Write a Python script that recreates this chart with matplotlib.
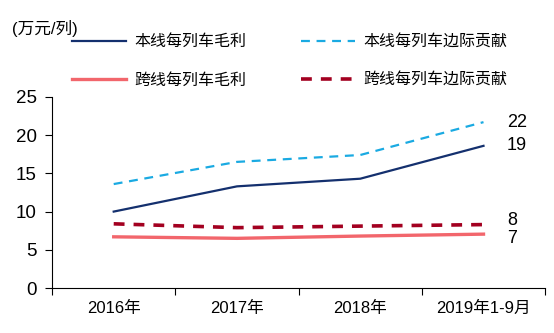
import matplotlib
matplotlib.use('Agg')
import matplotlib.pyplot as plt

plt.rcParams['font.family'] = ['Liberation Sans', 'Noto Sans CJK SC']

years = ['2016年', '2017年', '2018年', '2019年1-9月']
own_gross = [10.0, 13.3, 14.3, 18.6]
own_margin = [13.6, 16.5, 17.4, 21.7]
cross_gross = [6.7, 6.5, 6.8, 7.05]
cross_margin = [8.4, 7.9, 8.1, 8.3]
end_labels = ['19', '22', '7', '8']

fig = plt.figure(figsize=(5.54, 3.33), dpi=100)
ax = fig.add_axes([0.094, 0.135, 0.89, 0.574])

x = range(len(years))
l1, = ax.plot(x, own_gross, color='#14306E', lw=1.6, label='本线每列车毛利')
l2, = ax.plot(x, own_margin, color='#1AAAE2', lw=1.6, ls=(0, (4, 3)), label='本线每列车边际贡献')
l3, = ax.plot(x, cross_gross, color='#F2666C', lw=2.4, label='跨线每列车毛利')
l4, = ax.plot(x, cross_margin, color='#A30020', lw=2.6, ls=(0, (3, 2.5)), label='跨线每列车边际贡献')

# small vertical nudges keep the two low end labels apart
nudges = [0, 0, -3, 3]
for series, text, dy in zip([own_gross, own_margin, cross_gross, cross_margin], end_labels, nudges):
    ax.annotate(text, xy=(3, series[-1]), xytext=(17, dy), textcoords='offset points',
                va='center', ha='left', fontsize=13)

ax.set_xlim(-0.5, 3.5)
ax.set_ylim(0, 25)
ax.set_yticks(range(0, 26, 5))
ax.set_xticks([-0.5, 0.5, 1.5, 2.5, 3.5])
ax.set_xticklabels([])
ax.set_xticks(list(x), minor=True)
ax.set_xticklabels(years, minor=True, fontsize=12)
ax.tick_params(axis='x', which='minor', length=0, pad=9)
ax.tick_params(axis='x', which='major', length=5, direction='out')
ax.tick_params(axis='y', length=5, labelsize=13.5, pad=6)
ax.spines['top'].set_visible(False)
ax.spines['right'].set_visible(False)
ax.spines['left'].set_bounds(0, 25)

fig.text(0.022, 0.915, '(万元/列)', fontsize=12, va='center')

fig.legend(handles=[l1, l3, l2, l4], ncol=2, frameon=False, loc='upper left',
           bbox_to_anchor=(0.13, 0.897), borderpad=0, borderaxespad=0,
           handlelength=3.4, handletextpad=0.5, columnspacing=3.4,
           labelspacing=1.45, fontsize=11.5)

fig.savefig('out.png', dpi=100)
